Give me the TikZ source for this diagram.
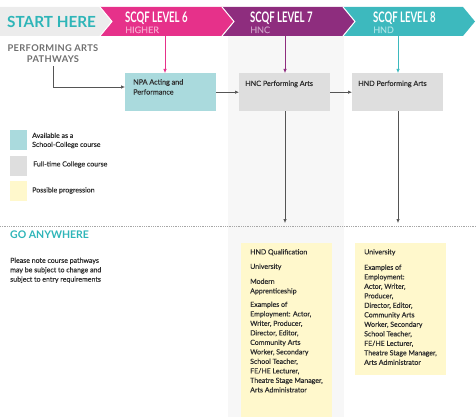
\documentclass[tikz,border=0pt]{standalone}
\usepackage{fontspec}
\setmainfont{Lato}
\newfontfamily\condfont[FakeStretch=0.66]{Lato}
\newfontfamily\bodyfont[FakeBold=0.35]{Lato}
\usetikzlibrary{arrows.meta}
\definecolor{pinkc}{HTML}{E6318A}
\definecolor{purplec}{HTML}{8E2D7E}
\definecolor{tealc}{HTML}{3DB9BE}
\definecolor{pinksub}{HTML}{F6A5CD}
\definecolor{purplesub}{HTML}{C99AC3}
\definecolor{tealsub}{HTML}{A8E2E5}
\definecolor{startgrey}{HTML}{ECECEC}
\definecolor{startteal}{HTML}{2EB5B8}
\definecolor{headgrey}{HTML}{6F6F6F}
\definecolor{npac}{HTML}{AADADD}
\definecolor{greyc}{HTML}{DEDEDE}
\definecolor{yellowc}{HTML}{FFF8CC}
\definecolor{colbg}{HTML}{F7F7F7}
\definecolor{txt}{HTML}{2E2E2E}
\definecolor{arrgrey}{HTML}{555555}
\begin{document}
\begin{tikzpicture}[x=1pt,y=-1pt,
  arr/.style={-{Latex[length=4pt,width=3.4pt]}, line width=0.6pt, draw=arrgrey},
  course/.style={anchor=north west, inner sep=0pt, minimum width=91pt, minimum height=38pt},
  boxtext/.style={anchor=north west, inner sep=0pt, text=txt, align=left, font=\bodyfont\fontsize{7.2}{10}\selectfont},
  ybox/.style={anchor=north west, inner sep=0pt, fill=yellowc, minimum width=91pt},
  ytext/.style={anchor=north west, inner sep=0pt, text=txt, align=left, font=\bodyfont\fontsize{7}{9.5}\selectfont},
  legsq/.style={anchor=north west, inner sep=0pt, minimum width=17pt, minimum height=20pt},
  legtext/.style={anchor=west, inner sep=0pt, text=txt, align=left, font=\bodyfont\fontsize{7}{9}\selectfont},
  level/.style={anchor=base west, inner sep=0pt, text=white, font=\condfont\bfseries\fontsize{14.5}{14}\selectfont},
  sub/.style={anchor=base west, inner sep=0pt, font=\bodyfont\fontsize{9}{9}\selectfont},
  chev/.style={draw=white, line width=1pt}]
\useasboundingbox (0,0) rectangle (476,417);
% faint column for level 7
\fill[colbg] (228,36) rectangle (344,417);
% banner
\fill[startgrey] (0,7) -- (100,7) -- (112,21.5) -- (100,36) -- (0,36) -- cycle;
\fill[pinkc] (100,7) -- (222,7) -- (234,21.5) -- (222,36) -- (100,36) -- (112,21.5) -- cycle;
\fill[purplec] (222,7) -- (343,7) -- (355,21.5) -- (343,36) -- (222,36) -- (234,21.5) -- cycle;
\fill[tealc] (343,7) -- (463,7) -- (475,21.5) -- (463,36) -- (343,36) -- (355,21.5) -- cycle;
\draw[chev] (100,7) -- (112,21.5) -- (100,36);
\draw[chev] (222,7) -- (234,21.5) -- (222,36);
\draw[chev] (343,7) -- (355,21.5) -- (343,36);
\node[anchor=base west, inner sep=0pt, text=startteal, font=\fontsize{15.3}{15}\selectfont\bfseries] (start) at (7,28) {START HERE};
\node[level] (l6) at (125,23) {SCQF LEVEL 6};
\node[sub, text=pinksub] (l6s) at (125,33) {HIGHER};
\node[level] (l7) at (250,23) {SCQF LEVEL 7};
\node[sub, text=purplesub] (l7s) at (250,33) {HNC};
\node[level] (l8) at (373,23) {SCQF LEVEL 8};
\node[sub, text=tealsub] (l8s) at (373,33) {HND};
\coordinate (b6) at (165,36);
\coordinate (b7) at (285,36);
\coordinate (b8) at (398,36);
% pathways title
\node[anchor=north, inner sep=0pt, align=center, text=headgrey, font=\bfseries\fontsize{9.3}{11}\selectfont\addfontfeature{LetterSpace=3.5}] (paths) at (53,45) {PERFORMING ARTS\\PATHWAYS};
% course boxes
\node[course, fill=npac] (npa) at (125,73) {};
\node[boxtext] (npat) at (133,79) {NPA Acting and\\Performance};
\node[course, fill=greyc] (hnc) at (239,73) {};
\node[boxtext] (hnct) at (245,80.5) {HNC Performing Arts};
\node[course, fill=greyc] (hnd) at (352,73) {};
\node[boxtext] (hndt) at (358,80.5) {HND Performing Arts};
% connectors
\coordinate (npain) at (125,87);
\draw[arr] ([yshift=-3pt]paths.south) |- (npain);
\draw[arr, draw=pinkc] (b6) -- (b6 |- npa.north);
\draw[arr, draw=purplec] (b7) -- (b7 |- hnc.north);
\draw[arr, draw=tealc] (b8) -- (b8 |- hnd.north);
\draw[arr] (npa.east) -- (hnc.west);
\draw[arr] (hnc.east) -- (hnd.west);
\coordinate (hncend) at (285,223);
\coordinate (hndend) at (398,223);
\draw[arr] (hnc.south -| b7) -- (hncend);
\draw[arr] (hnd.south -| b8) -- (hndend);
% legend
\node[legsq, fill=npac] (lg1) at (10,130) {};
\node[legtext] (lg1t) at (32,140.5) {Available as a\\School-College course};
\node[legsq, fill=greyc] (lg2) at (10,156) {};
\node[legtext] (lg2t) at (33,164.5) {Full-time College course};
\node[legsq, fill=yellowc] (lg3) at (10,181) {};
\node[legtext] (lg3t) at (32,190.5) {Possible progression};
% divider
\draw[draw=gray!70, line width=0.5pt, dash pattern=on 0.8pt off 1pt] (0,226) -- (476,226);
\node[anchor=base west, inner sep=0pt, text=startteal, font=\bfseries\fontsize{10.5}{11}\selectfont] (go) at (10,238.5) {GO ANYWHERE};
\node[anchor=north west, inner sep=0pt, text=txt, align=left, font=\bodyfont\fontsize{7}{9.4}\selectfont] (note) at (10,257.5) {Please note course pathways\\may be subject to change and\\subject to entry requirements};
% progression boxes
\node[ybox, minimum height=174pt] (y1) at (241,243) {};
\node[ytext] (y1t) at (250,249) {HND Qualification\\[5pt]University\\[5.5pt]Modern\\Apprenticeship\\[4pt]Examples of\\Employment: Actor,\\Writer, Producer,\\Director, Editor,\\Community Arts\\Worker, Secondary\\School Teacher,\\FE/HE Lecturer,\\Theatre Stage Manager,\\Arts Administrator};
\node[ybox, minimum height=132pt] (y2) at (355,243) {};
\node[ytext] (y2t) at (364,249) {University\\[6pt]Examples of\\Employment:\\Actor, Writer,\\Producer,\\Director, Editor,\\Community Arts\\Worker, Secondary\\School Teacher,\\FE/HE Lecturer,\\Theatre Stage Manager,\\Arts Administrator};
\end{tikzpicture}
\end{document}
